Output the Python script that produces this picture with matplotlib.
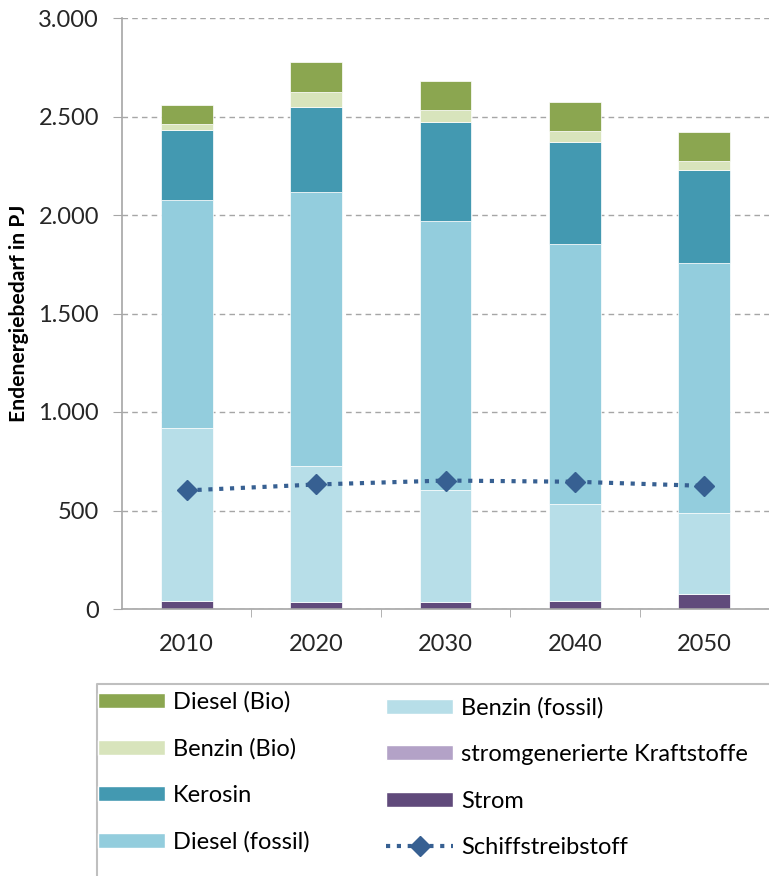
import matplotlib
matplotlib.use("Agg")
from matplotlib import pyplot as plt
from matplotlib import patches
from matplotlib.lines import Line2D
from matplotlib.ticker import FuncFormatter
import numpy as np

years = ["2010", "2020", "2030", "2040", "2050"]
strom = [43, 36, 36, 43, 74]
strom_kraftstoffe = [0, 0, 0, 0, 0]
benzin_fossil = [874, 689, 566, 491, 412]
diesel_fossil = [1157, 1390, 1370, 1321, 1271]
kerosin = [359, 431, 500, 514, 471]
benzin_bio = [30, 77, 59, 55, 46]
diesel_bio = [94, 154, 149, 148, 146]
schiff = [602, 632, 652, 646, 625]

plt.rcParams["font.family"] = ["Lato", "DejaVu Sans"]

fig = plt.figure(figsize=(7.69, 8.76), dpi=100)
ax = fig.add_axes([122 / 769, 1 - 609 / 876, (769 - 122) / 769, (609 - 18) / 876])

x = np.arange(len(years))
width = 0.4
series = [
    ("Strom", strom, "#604A7B"),
    ("stromgenerierte Kraftstoffe", strom_kraftstoffe, "#B3A2C7"),
    ("Benzin (fossil)", benzin_fossil, "#B7DEE8"),
    ("Diesel (fossil)", diesel_fossil, "#93CDDD"),
    ("Kerosin", kerosin, "#4399B1"),
    ("Benzin (Bio)", benzin_bio, "#D8E4BC"),
    ("Diesel (Bio)", diesel_bio, "#8BA650"),
]
handles = {}
bottom = np.zeros(len(years))
for name, vals, col in series:
    vals = np.array(vals, dtype=float)
    ax.bar(x, vals, width, bottom=bottom, color=col, edgecolor="white", linewidth=0.5, zorder=2)
    handles[name] = patches.Patch(facecolor=col, edgecolor="white", label=name)
    bottom += vals

line, = ax.plot(x, schiff, color="#376092", linestyle=(0, (1, 1.6)), linewidth=3,
                marker="D", markersize=10, zorder=3, label="Schiffstreibstoff")
handles["Schiffstreibstoff"] = line

ax.set_xlim(-0.5, len(years) - 0.5)
ax.set_ylim(0, 3000)
ax.set_yticks(np.arange(0, 3001, 500))
ax.yaxis.set_major_formatter(FuncFormatter(lambda v, p: f"{int(v):,}".replace(",", ".")))
ax.set_xticks(x)
ax.set_xticklabels(years)
ax.set_xticks(np.arange(0.5, len(years) - 0.5, 1), minor=True)
ax.tick_params(axis="x", which="major", length=0, labelsize=17, pad=18, colors="#262626")
ax.tick_params(axis="x", which="minor", length=6, color="#A6A6A6", direction="out")
ax.tick_params(axis="y", length=6.5, color="#A6A6A6", labelsize=17, colors="#262626", pad=10)
ax.grid(axis="y", color="#A6A6A6", linestyle=(0, (4, 3)), linewidth=1, zorder=0)
ax.set_axisbelow(True)
for s in ["top", "right"]:
    ax.spines[s].set_visible(False)
for s in ["left", "bottom"]:
    ax.spines[s].set_color("#A6A6A6")
    ax.spines[s].set_linewidth(1.2)
ax.set_ylabel("Endenergiebedarf in PJ", fontsize=15.2, fontweight="bold")
ax.yaxis.set_label_coords((29 - 122) / 647, 0.5)

# legend box (top and left edge only, the rest runs off the picture)
box_x, box_y = 97 / 769, 1 - 684 / 876
fig.add_artist(Line2D([box_x, box_x, 1.0], [0, box_y, box_y], transform=fig.transFigure,
                      color="#BFBFBF", linewidth=1.5))
col1 = ["Diesel (Bio)", "Benzin (Bio)", "Kerosin", "Diesel (fossil)"]
col2 = ["Benzin (fossil)", "stromgenerierte Kraftstoffe", "Strom", "Schiffstreibstoff"]
leg_kw = dict(frameon=False, fontsize=17, handlelength=2.84, handleheight=0.6,
              handletextpad=0.34, labelspacing=1.08, borderpad=0, borderaxespad=0,
              loc="upper left")
fig.legend([handles[n] for n in col1], col1,
           bbox_to_anchor=(98 / 769, 1 - 691 / 876), **leg_kw)
fig.legend([handles[n] for n in col2], col2,
           bbox_to_anchor=(386 / 769, 1 - 697 / 876), **leg_kw)

fig.savefig("out.png", dpi=100)
